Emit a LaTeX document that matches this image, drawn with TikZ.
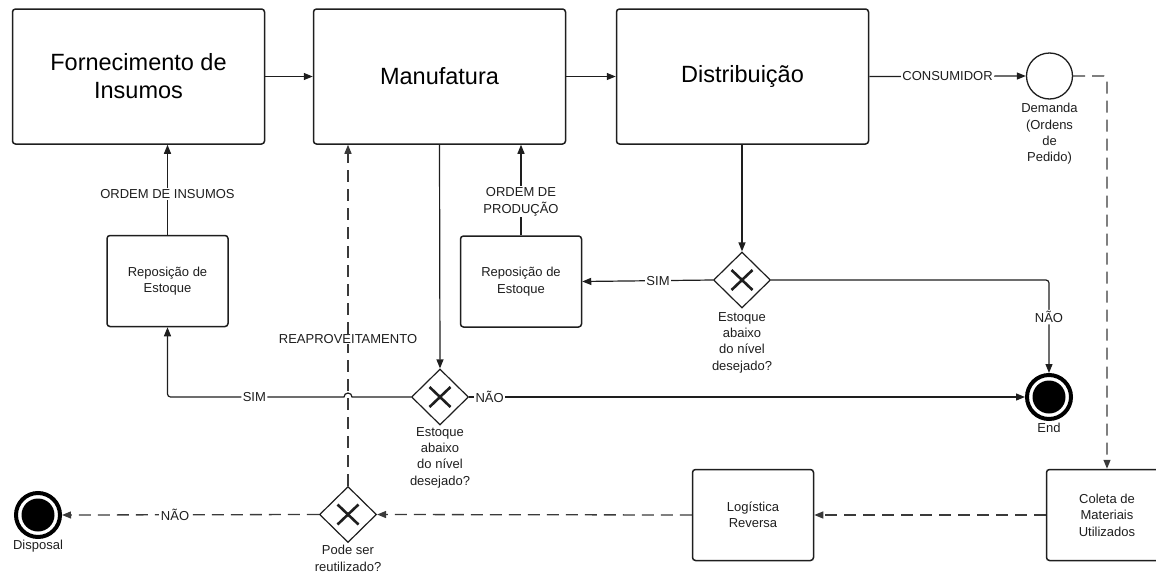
\documentclass[tikz,border=0pt]{standalone}
\usepackage{fontspec}
\setmainfont{Liberation Sans}
\usetikzlibrary{shapes.geometric,arrows.meta,calc}
\definecolor{ink}{HTML}{1E1E1E}
\definecolor{dashink}{HTML}{3A3A3A}
\begin{document}
\begin{tikzpicture}[x=1pt,y=-1pt,
  big/.style={font=\fontsize{23.5}{28}\selectfont},
  sm/.style={font=\fontsize{13}{16.4}\selectfont, text=ink},
  stage/.style={draw=ink,line width=1.5pt,rounded corners=3pt,minimum width=252pt,
    minimum height=135pt,align=center,big,inner sep=0pt},
  task/.style={draw=ink,line width=1.5pt,rounded corners=3pt,minimum width=121pt,
    minimum height=91pt,align=center,sm,inner sep=0pt},
  gate/.style={draw=ink,diamond,line width=1.2pt,minimum width=57pt,minimum height=56pt,
    inner sep=0pt,path picture={
      \draw[line width=2.6pt,ink] ($(path picture bounding box.center)+(-10.5pt,-10pt)$) -- ($(path picture bounding box.center)+(10.5pt,10pt)$);
      \draw[line width=2.6pt,ink] ($(path picture bounding box.center)+(-10.5pt,10pt)$) -- ($(path picture bounding box.center)+(10.5pt,-10pt)$);}},
  endev/.style={circle,draw=black,line width=4pt,minimum size=44pt,inner sep=0pt,
    path picture={\fill[black] (path picture bounding box.center) circle[radius=16.5pt];}},
  startev/.style={circle,draw=ink,line width=1.3pt,minimum size=46pt,inner sep=0pt},
  caption/.style={sm,align=center,inner sep=0pt},
  lab/.style={sm,fill=white,inner sep=1.5pt,align=center},
  conn/.style={draw=ink,line width=1.2pt,-{Triangle[length=9pt,width=7pt]}},
  flow/.style={conn,draw=dashink,line width=1.3pt,dash pattern=on 12pt off 7pt},
]
\useasboundingbox (0,0) rectangle (1156,573);
\clip (0,0) rectangle (1156,573);

% main chain
\node[stage] (forn) at (138.5,76.5) {Fornecimento de\\Insumos};
\node[stage] (manu) at (439.5,76.5) {Manufatura};
\node[stage] (dist) at (742.5,76.5) {Distribuição};
\node[startev] (dem) at (1049.5,76) {};
\node[caption,anchor=north] (demlbl) at (1049.5,103) {Demanda\\(Ordens\\de\\Pedido)};

% replenishment tasks
\node[task] (rep1) at (167.5,281) {Reposição de\\Estoque};
\node[task] (rep2) at (521,281.5) {Reposição de\\Estoque};

% stock decisions
\node[gate] (gw1) at (440,397) {};
\node[caption,anchor=north] (gw1lbl) at (440,427) {Estoque\\abaixo\\do nível\\desejado?};
\node[gate] (gw2) at (742,280) {};
\node[caption,anchor=north] (gw2lbl) at (742,312) {Estoque\\abaixo\\do nível\\desejado?};
\node[endev] (end) at (1049,397) {};
\node[caption,anchor=north] (endlbl) at (1049,423) {End};

% reverse logistics
\node[task] (coleta) at (1107,515) {Coleta de\\Materiais\\Utilizados};
\node[task] (logr) at (753,515) {Logística\\Reversa};
\node[gate] (gw3) at (348,514.5) {};
\node[caption,anchor=north] (gw3lbl) at (348,545) {Pode ser\\reutilizado?};
\node[endev] (disp) at (38,515) {};
\node[caption,anchor=north] (displbl) at (38,540) {Disposal};

% forward flow
\draw[conn] (forn) -- (manu);
\draw[conn] (manu) -- (dist);
\draw[conn] (dist.east) -- (dem.west) node[lab,midway] (consumidor) {CONSUMIDOR};

% orders back to the stages
\draw[conn] (rep1.north) -- (rep1.north |- forn.south)
  node[lab,pos=0.45] (ordins) {ORDEM DE INSUMOS};
\draw[conn] (rep2.north) -- (rep2.north |- manu.south)
  node[lab,pos=0.37] (ordprod) {ORDEM DE\\PRODUÇÃO};

% decisions after manufacturing and distribution
\draw[conn] (manu.south) -- (gw1.north);
\draw[conn] (dist.south -| gw2.north) -- (gw2.north);
\draw[conn] (gw2.west) -- (rep2.east) node[lab,pos=0.42] (sim2) {SIM};
\draw[conn,rounded corners=3pt] (gw2.east) -| (end.north) node[lab,pos=0.70] (nao2) {NÃO};
\draw[conn] (gw1.east) -- (end.west) node[lab,pos=0.037] (nao1) {NÃO};
\coordinate (hopR) at ($(gw1.west -| gw3.north)+(4,0)$);
\draw[conn] (gw1.west) -- (hopR) arc[start angle=0,end angle=-180,radius=4]
  [rounded corners=3pt] -| (rep1.south) node[lab,pos=0.254] (sim1) {SIM};

% reverse flow
\draw[flow,rounded corners=3pt] (dem.east) -| (coleta.north);
\draw[flow] (coleta.west) -- (logr.east);
\draw[flow] (logr.west) -- (gw3.east);
\draw[flow] (gw3.west) -- (disp.east) node[lab,pos=0.56] (nao3) {NÃO};
\draw[flow] (gw3.north) -- (gw3.north |- manu.south)
  node[lab,pos=0.43,inner sep=0.5pt] (reap) {REAPROVEITAMENTO};
\end{tikzpicture}
\end{document}
